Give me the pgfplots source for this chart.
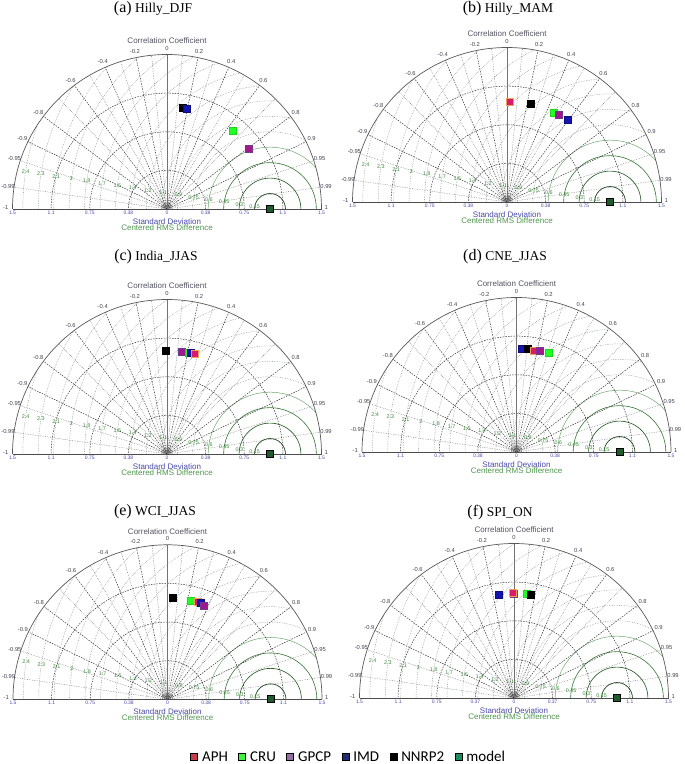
\documentclass[border=0pt]{standalone}
\usepackage{pgfplots}
\pgfplotsset{compat=1.18}
\usepackage{fontspec}
\setmainfont{Liberation Serif}
\newfontfamily\arialf{Liberation Sans}
\newfontfamily\calf{Carlito}

\definecolor{aphF}{HTML}{D61A6E}
\definecolor{aphB}{HTML}{F0A050}
\definecolor{cruF}{HTML}{22FF22}
\definecolor{cruB}{HTML}{18D818}
\definecolor{gpcpF}{HTML}{A0188C}
\definecolor{gpcpB}{HTML}{6E3A8E}
\definecolor{imdF}{HTML}{1414B4}
\definecolor{imdB}{HTML}{0C0C7A}
\definecolor{modF}{HTML}{1E5C2E}
\definecolor{aphL}{HTML}{C4404C}
\definecolor{cruL}{HTML}{3EF53E}
\definecolor{gpcpL}{HTML}{9272A4}
\definecolor{imdL}{HTML}{232C72}
\definecolor{modL}{HTML}{1E8C5C}
\definecolor{rmsg}{HTML}{3A8A3A}
\definecolor{stdb}{HTML}{4848A8}
\definecolor{corrg}{HTML}{404050}

\tikzset{
  darkdash/.style={draw=black!80, line width=0.5pt, dash pattern=on 1.5pt off 1.2pt},
  lightdot/.style={draw=black!58, line width=0.45pt, dash pattern=on 0.6pt off 1.1pt},
  rmsdot/.style={draw=rmsg!45!black!60, line width=0.45pt, dash pattern=on 0.6pt off 1.1pt},
  corrlab/.style={font=\arialf\fontsize{5.8}{6}\selectfont, text=corrg, inner sep=0pt},
  stdlab/.style={font=\arialf\fontsize{5}{5}\selectfont, text=stdb, inner sep=0pt},
  rmslab/.style={font=\arialf\fontsize{5.4}{5}\selectfont, text=rmsg, inner sep=0pt},
  axlab/.style={font=\arialf\fontsize{8}{9}\selectfont, inner sep=0pt},
}

\newcommand{\taylorgrid}[3]{%
\begin{scope}[shift={(#1pt,#2pt)}, x=103pt, y=103pt]
  \begin{scope}
    \clip (-1.5,0) -- (1.5,0) arc[start angle=0, end angle=180, radius=1.5] -- cycle;
    \foreach \r in {0.75,0.9,1.05,1.2,1.35,1.5,1.65,1.8,1.95,2.1,2.25,2.4}
      \draw[rmsdot] (1,0) circle[radius=\r];
    \draw[draw=rmsg!75!white, line width=0.5pt] (1,0) circle[radius=0.6];
    \draw[draw=rmsg!85!black, line width=0.6pt] (1,0) circle[radius=0.45];
    \draw[draw=rmsg!70!black, line width=0.65pt] (1,0) circle[radius=0.3];
    \draw[draw=rmsg!50!black, line width=0.7pt] (1,0) circle[radius=0.15];
  \end{scope}
  \foreach \c in {0.1,0.3,0.5,0.7,0.95,0.99,-0.1,-0.3,-0.5,-0.7,-0.95,-0.99}
    \draw[lightdot] (0,0) -- ({acos(\c)}:1.5);
  \foreach \c in {0.2,0.4,0.6,0.8,0.9,-0.2,-0.4,-0.6,-0.8,-0.9}
    \draw[darkdash] (0,0) -- ({acos(\c)}:1.5);
  \foreach \r in {0.375,0.75,1.125}
    \draw[darkdash] (\r,0) arc[start angle=0, end angle=180, radius=\r];
  \draw[black!55, line width=0.8pt] (0,0) -- (0,1.5);
  \draw[black!65, line width=0.7pt] (1.5,0) arc[start angle=0, end angle=180, radius=1.5];
  \draw[black!70, line width=0.6pt] (-1.5,0) -- (1.5,0);
  \draw[black!70, line width=0.3pt] (0.03,0) arc[start angle=0, end angle=180, radius=0.03];
  \draw[black!70, line width=0.3pt] (0.05,0) arc[start angle=0, end angle=180, radius=0.05];
  \foreach \c in {0,0.2,0.4,0.6,0.8,0.9,0.95,0.99,-0.2,-0.4,-0.6,-0.8,-0.9,-0.95,-0.99}
    \node[corrlab] at ({acos(\c)}:1.56) {\c};
  \node[corrlab] at (1.545,0.015) {1};
  \node[corrlab] at (-1.565,0.015) {-1};
  \foreach \x/\t in {-1.5/1.5,-1.125/1.1,-0.75/0.75,-0.375/#3,0/0,0.375/#3,0.75/0.75,1.125/1.1,1.5/1.5}
    \node[stdlab] at (\x,-0.035) {\t};
  \foreach \r/\t in {0.15/0.15,0.3/0.3,0.45/0.45,0.6/0.6,0.75/0.75,0.9/0.9,1.05/1.1,1.2/1.2,1.35/1.4,1.5/1.5,1.65/1.7,1.8/1.8,1.95/2,2.1/2.1,2.25/2.3,2.4/2.4}
    \node[rmslab] at ({1-0.9885*\r},{0.1513*\r}) {\t};
  \node[axlab, text=corrg!90] at (0,1.63) {Correlation Coefficient};
  \node[axlab, text=stdb] at (0,-0.118) {Standard Deviation};
  \node[axlab, text=rmsg!90!white] at (0,-0.182) {Centered RMS Difference};
\end{scope}}

\newcommand{\ptitle}[4]{\node[anchor=base, font=\fontsize{13.5}{16}\selectfont, inner sep=0pt] at (#1pt,#2pt) {{\fontsize{16}{18}\selectfont (#3)} #4};}

\pgfplotsset{
  taylor/.style={x=103pt, y=103pt, xmin=-1.5, xmax=1.5, ymin=0, ymax=1.5, hide axis, clip=false, anchor=south},
  aph/.style={only marks, mark=square*, mark size=3.5pt, mark options={fill=aphF, draw=aphB, line width=0.7pt}, forget plot},
  cru/.style={only marks, mark=square*, mark size=3.5pt, mark options={fill=cruF, draw=cruB, line width=0.5pt}, forget plot},
  gpcp/.style={only marks, mark=square*, mark size=3.5pt, mark options={fill=gpcpF, draw=gpcpB, line width=0.6pt}, forget plot},
  imd/.style={only marks, mark=square*, mark size=3.5pt, mark options={fill=imdF, draw=imdB, line width=0.5pt}, forget plot},
  nnrp/.style={only marks, mark=square*, mark size=3.5pt, mark options={fill=black, draw=black}, forget plot},
  model/.style={only marks, mark=square*, mark size=3.5pt, mark options={fill=modF, draw=black, line width=0.6pt}, forget plot},
}

\begin{document}
\begin{tikzpicture}
\path[use as bounding box] (0,0) rectangle (685pt,764pt);

\taylorgrid{167}{555}{0.38}
\taylorgrid{507}{562}{0.38}
\taylorgrid{167}{310}{0.38}
\taylorgrid{516.5}{312}{0.38}
\taylorgrid{167.5}{64.7}{0.38}
\taylorgrid{514}{66}{0.37}

\ptitle{153}{751}{a}{Hilly\_DJF}
\ptitle{508}{751}{b}{Hilly\_MAM}
\ptitle{156}{503.5}{c}{India\_JJAS}
\ptitle{505}{503.5}{d}{CNE\_JJAS}
\ptitle{155}{248}{e}{WCI\_JJAS}
\ptitle{500}{247}{f}{SPI\_ON}

% (a) Hilly_DJF
\begin{axis}[taylor, at={(167pt,555pt)}]
\addplot[aph] coordinates {(0.79,0.58)};
\addplot[gpcp] coordinates {(0.79,0.58)};
\addplot[cru] coordinates {(0.635,0.758)};
\addplot[nnrp] coordinates {(0.152,0.981)};
\addplot[imd] coordinates {(0.194,0.974)};
\addplot[model] coordinates {(1.0,0)};
\end{axis}

% (b) Hilly_MAM
\begin{axis}[taylor, at={(507pt,562pt)}]
\addplot[aph] coordinates {(0.032,0.974)};
\addplot[nnrp] coordinates {(0.232,0.952)};
\addplot[cru] coordinates {(0.452,0.868)};
\addplot[gpcp] coordinates {(0.50,0.845)};
\addplot[imd] coordinates {(0.587,0.797)};
\addplot[model] coordinates {(1.0,0)};
\end{axis}

% (c) India_JJAS
\begin{axis}[taylor, at={(167pt,310pt)}]
\addplot[nnrp] coordinates {(-0.016,1.005)};
\addplot[gpcp] coordinates {(0.146,0.996)};
\addplot[cru] coordinates {(0.21,0.986)};
\addplot[imd] coordinates {(0.227,0.98)};
\addplot[aph] coordinates {(0.27,0.973)};
\addplot[model] coordinates {(1.0,0)};
\end{axis}

% (d) CNE_JJAS
\begin{axis}[taylor, at={(516.5pt,312pt)}]
\addplot[imd] coordinates {(0.049,1.001)};
\addplot[nnrp] coordinates {(0.108,1.001)};
\addplot[aph] coordinates {(0.173,0.985)};
\addplot[gpcp] coordinates {(0.228,0.978)};
\addplot[cru] coordinates {(0.316,0.959)};
\addplot[model] coordinates {(1.0,0)};
\end{axis}

% (e) WCI_JJAS + legend
\begin{axis}[taylor, at={(167.5pt,64.7pt)},
  legend columns=6,
  legend style={at={(1.0858,-0.3735)}, anchor=center, draw=none, fill=none,
    font=\calf\fontsize{15}{18}\selectfont,
    nodes={inner xsep=1.5pt, inner ysep=0pt},
    /tikz/every even column/.append style={column sep=9pt}},
  legend image code/.code={\fill[#1] (0pt,-3.5pt) rectangle (7pt,3.5pt); \path[draw=none, fill=none] (0pt,0pt) -- (10pt,0pt);}]
\addlegendimage{fill=aphL}\addlegendentry{APH}
\addlegendimage{fill=cruL}\addlegendentry{CRU}
\addlegendimage{fill=gpcpL}\addlegendentry{GPCP}
\addlegendimage{fill=imdL}\addlegendentry{IMD}
\addlegendimage{fill=black}\addlegendentry{NNRP2}
\addlegendimage{fill=modL}\addlegendentry{model}
\addplot[nnrp] coordinates {(0.055,0.984)};
\addplot[cru] coordinates {(0.226,0.961)};
\addplot[aph] coordinates {(0.29,0.945)};
\addplot[imd] coordinates {(0.323,0.939)};
\addplot[gpcp] coordinates {(0.355,0.906)};
\addplot[model] coordinates {(1.0,0)};
\end{axis}

% (f) SPI_ON
\begin{axis}[taylor, at={(514pt,66pt)}]
\addplot[imd] coordinates {(-0.151,0.999)};
\addplot[gpcp] coordinates {(-0.005,1.015)};
\addplot[aph] coordinates {(-0.013,1.019)};
\addplot[cru] coordinates {(0.124,1.009)};
\addplot[nnrp] coordinates {(0.164,0.999)};
\addplot[model] coordinates {(1.0,0)};
\end{axis}
\end{tikzpicture}
\end{document}
